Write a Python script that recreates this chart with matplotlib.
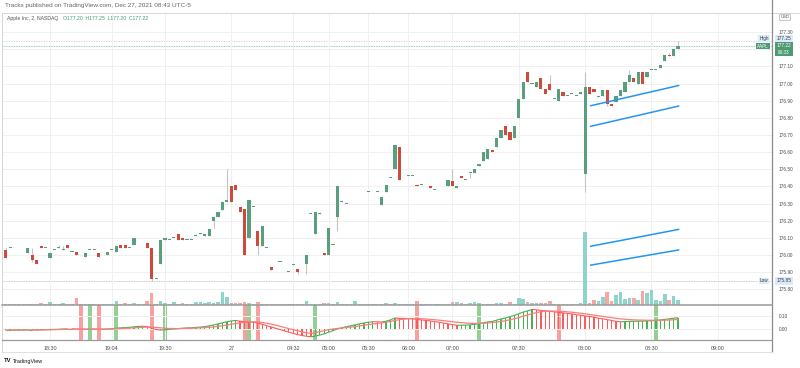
import sys
import numpy as np
import matplotlib
matplotlib.use("Agg")
import matplotlib.pyplot as plt
from matplotlib.lines import Line2D
from matplotlib.collections import LineCollection

plt.rcParams['font.family'] = ['Liberation Sans', 'DejaVu Sans']

# AAPL 2-minute bars, Dec 26-27 2021 (extended hours)
opens = [
    176.03, 176.04, 176.01, 176.01, 176.05, 176.01, 176.00, 175.97, 176.05, 176.04,
    175.98, 176.03, 176.04, 176.03, 176.06, 176.02, 176.02, 176.01, 175.99, 176.03,
    176.03, 176.01, 176.01, 176.00, 176.03, 176.02, 176.06, 176.06, 176.04, 176.06,
    176.08, 176.05, 176.07, 176.04, 175.86, 175.95, 176.09, 176.09, 176.10, 176.12,
    176.10, 176.09, 176.09, 176.11, 176.12, 176.11, 176.11, 176.20, 176.22, 176.26,
    176.31, 176.40, 176.41, 176.28, 176.27, 176.10, 176.28, 176.14, 176.05, 176.04,
    175.93, 175.91, 175.96, 175.91, 175.90, 175.94, 175.92, 175.94, 175.95, 176.24,
    176.12, 176.24, 176.01, 176.00, 176.06, 176.22, 176.31, 176.30, 176.36, 176.36,
    176.36, 176.40, 176.37, 176.40, 176.37, 176.29, 176.37, 176.45, 176.50, 176.63,
    176.40, 176.46, 176.46, 176.41, 176.41, 176.43, 176.40, 176.38, 176.40, 176.40,
    176.40, 176.43, 176.39, 176.46, 176.44, 176.48, 176.48, 176.52, 176.55, 176.56,
    176.61, 176.63, 176.68, 176.75, 176.72, 176.68, 176.80, 176.91, 177.07, 177.00,
    176.98, 177.03, 176.97, 177.00, 176.91, 176.90, 176.95, 176.93, 176.94, 176.93,
    176.94, 176.47, 176.98, 176.97, 176.92, 176.93, 176.96, 176.88, 176.89, 176.93,
    176.95, 177.01, 177.03, 177.00, 177.07, 177.04, 177.08, 177.08, 177.09, 177.13,
    177.17, 177.16, 177.20,
]
highs = [
    176.04, 176.04, 176.01, 176.01, 176.05, 176.04, 176.04, 175.97, 176.05, 176.04,
    176.01, 176.03, 176.06, 176.05, 176.06, 176.02, 176.02, 176.01, 176.01, 176.03,
    176.03, 176.01, 176.01, 176.02, 176.03, 176.05, 176.06, 176.06, 176.04, 176.10,
    176.08, 176.05, 176.07, 176.04, 175.86, 176.09, 176.10, 176.09, 176.10, 176.12,
    176.10, 176.09, 176.09, 176.12, 176.13, 176.12, 176.15, 176.22, 176.25, 176.31,
    176.50, 176.40, 176.41, 176.28, 176.27, 176.32, 176.28, 176.14, 176.17, 176.04,
    175.93, 175.91, 175.96, 175.91, 175.90, 175.95, 175.92, 175.94, 176.00, 176.24,
    176.25, 176.25, 176.01, 176.16, 176.06, 176.40, 176.32, 176.30, 176.36, 176.36,
    176.36, 176.40, 176.37, 176.40, 176.37, 176.34, 176.41, 176.45, 176.64, 176.63,
    176.40, 176.46, 176.46, 176.41, 176.41, 176.43, 176.40, 176.38, 176.40, 176.40,
    176.44, 176.50, 176.40, 176.46, 176.44, 176.48, 176.50, 176.53, 176.60, 176.62,
    176.61, 176.68, 176.73, 176.75, 176.72, 176.75, 176.91, 177.01, 177.07, 177.00,
    177.01, 177.03, 176.97, 177.05, 176.91, 176.97, 176.95, 176.93, 176.94, 176.93,
    176.95, 177.07, 176.98, 176.97, 176.93, 176.96, 176.96, 176.88, 176.93, 176.96,
    177.01, 177.08, 177.03, 177.07, 177.07, 177.07, 177.08, 177.08, 177.11, 177.17,
    177.18, 177.20, 177.25,
]
lows = [
    175.98, 176.04, 176.01, 176.01, 176.05, 176.01, 175.96, 175.95, 176.04, 176.04,
    175.98, 176.03, 176.04, 176.03, 176.04, 176.02, 176.00, 176.01, 175.99, 176.03,
    176.03, 175.99, 176.01, 176.00, 176.03, 176.02, 176.04, 176.04, 176.04, 176.06,
    176.08, 176.05, 176.04, 175.85, 175.86, 175.95, 176.09, 176.09, 176.10, 176.09,
    176.09, 176.09, 176.09, 176.11, 176.12, 176.11, 176.11, 176.16, 176.22, 176.26,
    176.31, 176.31, 176.38, 176.25, 176.00, 176.10, 176.28, 176.00, 176.05, 176.04,
    175.91, 175.91, 175.96, 175.91, 175.90, 175.94, 175.89, 175.94, 175.89, 176.24,
    176.12, 176.24, 176.00, 176.00, 176.06, 176.14, 176.31, 176.30, 176.36, 176.36,
    176.36, 176.40, 176.37, 176.40, 176.37, 176.29, 176.37, 176.45, 176.50, 176.44,
    176.40, 176.46, 176.46, 176.40, 176.41, 176.43, 176.39, 176.38, 176.40, 176.40,
    176.40, 176.40, 176.39, 176.45, 176.44, 176.45, 176.48, 176.52, 176.55, 176.56,
    176.60, 176.63, 176.68, 176.70, 176.67, 176.68, 176.80, 176.91, 177.01, 177.00,
    176.98, 176.97, 176.94, 176.96, 176.91, 176.90, 176.93, 176.93, 176.94, 176.93,
    176.94, 176.37, 176.94, 176.95, 176.92, 176.93, 176.87, 176.87, 176.89, 176.93,
    176.95, 177.01, 177.01, 177.00, 177.00, 177.04, 177.08, 177.08, 177.09, 177.13,
    177.16, 177.16, 177.20,
]
closes = [
    175.98, 176.04, 176.01, 176.01, 176.05, 176.04, 175.97, 175.95, 176.04, 176.04,
    176.01, 176.03, 176.04, 176.03, 176.04, 176.02, 176.00, 176.01, 176.01, 176.03,
    176.03, 175.99, 176.01, 176.02, 176.03, 176.05, 176.04, 176.04, 176.04, 176.10,
    176.08, 176.05, 176.04, 175.86, 175.86, 176.09, 176.10, 176.09, 176.10, 176.09,
    176.09, 176.09, 176.09, 176.11, 176.13, 176.12, 176.15, 176.22, 176.25, 176.31,
    176.32, 176.31, 176.38, 176.25, 176.00, 176.32, 176.28, 176.05, 176.17, 176.04,
    175.91, 175.91, 175.96, 175.91, 175.90, 175.95, 175.90, 175.94, 176.00, 176.24,
    176.25, 176.24, 176.00, 176.16, 176.06, 176.40, 176.31, 176.30, 176.36, 176.36,
    176.36, 176.40, 176.37, 176.40, 176.37, 176.34, 176.41, 176.45, 176.64, 176.44,
    176.40, 176.46, 176.46, 176.40, 176.41, 176.43, 176.39, 176.38, 176.40, 176.40,
    176.44, 176.40, 176.40, 176.45, 176.44, 176.48, 176.50, 176.53, 176.60, 176.62,
    176.60, 176.68, 176.73, 176.70, 176.67, 176.75, 176.91, 177.01, 177.01, 177.00,
    177.01, 176.97, 176.94, 176.96, 176.91, 176.97, 176.93, 176.93, 176.94, 176.93,
    176.95, 176.98, 176.94, 176.95, 176.93, 176.96, 176.88, 176.87, 176.93, 176.96,
    177.01, 177.05, 177.01, 177.07, 177.00, 177.07, 177.08, 177.08, 177.11, 177.17,
    177.16, 177.20, 177.22,
]
# volume, thousand shares
volumes = [
    4, 3, 3, 3, 3, 4, 4, 4, 5, 3,
    8, 3, 3, 7, 4, 3, 20, 3, 4, 3,
    3, 4, 3, 4, 3, 12, 3, 5, 3, 5,
    3, 3, 12, 37, 4, 12, 5, 3, 9, 4,
    5, 3, 3, 8, 8, 5, 10, 6, 10, 40,
    23, 6, 6, 5, 10, 6, 3, 10, 4, 3,
    3, 3, 3, 3, 3, 3, 4, 3, 13, 3,
    3, 3, 7, 6, 3, 9, 3, 3, 3, 12,
    3, 3, 3, 3, 3, 3, 5, 3, 5, 3,
    3, 3, 3, 12, 3, 3, 4, 3, 3, 3,
    3, 10, 8, 5, 3, 5, 10, 5, 4, 4,
    3, 5, 5, 3, 10, 4, 21, 18, 10, 5,
    5, 7, 7, 12, 3, 3, 3, 3, 3, 3,
    5, 220, 7, 15, 12, 23, 40, 12, 30, 40,
    17, 22, 20, 15, 42, 35, 44, 15, 13, 33,
    15, 27, 15,
]
# lower pane oscillator (histogram) and its signal line
osc = [
    -0.010, -0.010, -0.009, -0.008, -0.007, -0.006, -0.006, -0.008, -0.006, -0.005,
    -0.004, -0.003, -0.002, 0.000, 0.001, 0.001, 0.000, -0.001, -0.002, -0.001,
    0.000, -0.001, -0.002, 0.000, 0.002, 0.006, 0.009, 0.011, 0.013, 0.017,
    0.020, 0.021, 0.019, 0.008, -0.004, -0.008, -0.006, -0.003, 0.000, 0.003,
    0.006, 0.008, 0.010, 0.012, 0.015, 0.019, 0.024, 0.031, 0.039, 0.048,
    0.056, 0.062, 0.066, 0.060, 0.056, 0.055, 0.052, 0.046, 0.036, 0.026,
    0.016, 0.006, -0.004, -0.014, -0.024, -0.034, -0.043, -0.050, -0.056, -0.060,
    -0.055, -0.047, -0.037, -0.025, -0.012, 0.000, 0.010, 0.018, 0.025, 0.032,
    0.040, 0.046, 0.052, 0.056, 0.055, 0.054, 0.060, 0.070, 0.085, 0.082,
    0.081, 0.080, 0.078, 0.075, 0.070, 0.066, 0.062, 0.057, 0.052, 0.046,
    0.040, 0.034, 0.028, 0.029, 0.030, 0.032, 0.036, 0.042, 0.048, 0.055,
    0.058, 0.068, 0.078, 0.085, 0.095, 0.105, 0.118, 0.130, 0.140, 0.150,
    0.148, 0.142, 0.140, 0.136, 0.132, 0.128, 0.124, 0.120, 0.116, 0.110,
    0.106, 0.100, 0.097, 0.092, 0.083, 0.078, 0.072, 0.066, 0.058, 0.056,
    0.057, 0.058, 0.059, 0.060, 0.061, 0.062, 0.064, 0.066, 0.070, 0.074,
    0.078, 0.083, 0.087,
]
signal = [
    -0.008, -0.008, -0.008, -0.008, -0.008, -0.007, -0.007, -0.007, -0.007, -0.006,
    -0.006, -0.005, -0.004, -0.003, -0.002, -0.001, -0.001, -0.001, -0.001, -0.001,
    -0.001, -0.001, -0.001, -0.001, 0.000, 0.001, 0.003, 0.005, 0.007, 0.009,
    0.011, 0.013, 0.015, 0.014, 0.012, 0.009, 0.006, 0.004, 0.003, 0.003,
    0.004, 0.005, 0.006, 0.007, 0.009, 0.011, 0.013, 0.016, 0.020, 0.025,
    0.030, 0.036, 0.042, 0.047, 0.051, 0.054, 0.055, 0.054, 0.050, 0.045,
    0.038, 0.030, 0.021, 0.012, 0.003, -0.006, -0.014, -0.022, -0.030, -0.033,
    -0.028, -0.020, -0.012, -0.005, 0.000, 0.004, 0.008, 0.011, 0.015, 0.019,
    0.024, 0.029, 0.034, 0.039, 0.043, 0.047, 0.052, 0.058, 0.066, 0.072,
    0.076, 0.079, 0.080, 0.080, 0.079, 0.077, 0.074, 0.071, 0.068, 0.064,
    0.060, 0.056, 0.052, 0.049, 0.046, 0.044, 0.043, 0.043, 0.044, 0.046,
    0.049, 0.053, 0.058, 0.064, 0.071, 0.079, 0.088, 0.098, 0.108, 0.118,
    0.126, 0.132, 0.136, 0.138, 0.138, 0.137, 0.135, 0.132, 0.129, 0.125,
    0.121, 0.117, 0.112, 0.107, 0.102, 0.097, 0.092, 0.087, 0.082, 0.078,
    0.075, 0.072, 0.070, 0.069, 0.068, 0.067, 0.067, 0.067, 0.067, 0.068,
    0.069, 0.071, 0.073,
]
# bars flagged by the indicator background
red_flags = [17, 21, 33, 54, 57, 93, 125]
green_flags = [19, 25, 36, 55, 70, 107, 147]

time_ticks = [10, 24, 36, 51, 65, 73, 82, 91, 101, 116, 131, 146, 161]
time_labels = ["18:30", "19:04", "19:30", "27", "04:32", "05:00", "05:30",
               "06:00", "07:00", "07:30", "08:00", "08:30", "09:00"]
price_ticks = [175.80, 175.90, 176.00, 176.10, 176.20, 176.30, 176.40, 176.50,
               176.60, 176.70, 176.80, 176.90, 177.00, 177.10, 177.20, 177.30]

# user drawn trend lines (bar index -> price)
trend_bars = [132.1, 152.3]
trend_start = [176.87, 176.75, 176.05, 175.94]
trend_end = [176.99, 176.87, 176.15, 176.03]

day_high = 177.25
day_low = 175.85
last_price = 177.22

W, H = 800, 368
XLIM = (-0.84, 173.25)
GREEN = '#5a9e7d'
RED = '#cc4b3c'
TXT = '#4a4a4a'


def box(left, top, right, bottom):
    return [left / W, 1 - bottom / H, (right - left) / W, (bottom - top) / H]


def ftext(fig, px, py, s, **kw):
    kw.setdefault('fontsize', 3.6)
    kw.setdefault('color', TXT)
    kw.setdefault('va', 'center')
    return fig.text(px / W, 1 - py / H, s, **kw)


def fline(fig, xs, ys, color, lw):
    fig.add_artist(Line2D([v / W for v in xs], [1 - v / H for v in ys],
                          color=color, lw=lw, transform=fig.transFigure))


def main():
    fig = plt.figure(figsize=(8, 3.68), dpi=100)
    fig.patch.set_facecolor('white')

    x = np.arange(len(closes))
    o = np.array(opens)
    c = np.array(closes)
    up = c >= o

    # price pane
    ax = fig.add_axes(box(2, 12.7, 772, 305))
    ax.set_xlim(XLIM)
    ax.set_ylim(175.708, 177.414)
    for s in ax.spines.values():
        s.set_visible(False)
    ax.set_xticks(time_ticks)
    ax.set_yticks(price_ticks)
    # 177.20 sits under the last-price label
    ax.set_yticklabels(["" if abs(p - 177.20) < 1e-6 else f"{p:.2f}" for p in price_ticks])
    ax.yaxis.tick_right()
    ax.tick_params(axis='y', length=0, pad=5, labelsize=3.4, labelcolor=TXT)
    ax.tick_params(axis='x', length=0, labelbottom=False)
    ax.grid(True, color='#f0f0f0', lw=0.7, zorder=0)

    ax.axhline(day_high, color='#c9ccd4', lw=0.6, ls=(0, (1, 1)), zorder=1)
    ax.axhline(day_low, color='#b8b8b8', lw=0.6, ls=(0, (1, 1)), zorder=1)
    ax.axhline(last_price, color='#7fb89a', lw=0.6, ls=(0, (1, 1)), zorder=1)

    ax.vlines(x, lows, highs, color='#c4c4c4', lw=0.8, zorder=2)
    body = np.maximum(np.abs(c - o), 0.004)
    ax.bar(x, body, bottom=np.minimum(o, c), width=0.72,
           color=np.where(up, GREEN, RED), lw=0, zorder=3)

    for p0, p1 in zip(trend_start, trend_end):
        ax.plot(trend_bars, [p0, p1], color='#2196f3', lw=1.1,
                solid_capstyle='butt', zorder=4)

    # volume overlay
    vax = fig.add_axes(box(2, 12.7, 772, 305), facecolor='none')
    vax.set_xlim(XLIM)
    vax.set_ylim(0, 877)
    vax.axis('off')
    vax.bar(x, volumes, width=0.8, color=np.where(up, '#8fd4ca', '#f7a6a3'),
            lw=0, zorder=1)

    # indicator pane
    ind = fig.add_axes(box(2, 305, 772, 340))
    ind.set_xlim(XLIM)
    ind.set_ylim(-0.0846, 0.1846)
    for s in ind.spines.values():
        s.set_visible(False)
    ind.set_xticks(time_ticks)
    ind.set_xticklabels(time_labels)
    ind.set_yticks([0.0, 0.1])
    ind.set_yticklabels(["0.00", "0.10"])
    ind.yaxis.tick_right()
    ind.tick_params(axis='y', length=0, pad=5, labelsize=3.4, labelcolor=TXT)
    ind.tick_params(axis='x', length=0, pad=4, labelsize=3.9, labelcolor=TXT)
    ind.grid(True, color='#f0f0f0', lw=0.7, zorder=0)

    for i in red_flags:
        ind.axvspan(i - 0.45, i + 0.45, color='#f8a0a0', lw=0, zorder=1)
    for i in green_flags:
        ind.axvspan(i - 0.45, i + 0.45, color='#94cf94', lw=0, zorder=1)

    osc_a = np.array(osc)
    rising = np.diff(osc_a, prepend=osc_a[0]) >= 0
    cols = np.where(rising, '#4caf50', '#ff5a5a')
    ind.bar(x, osc_a, width=0.3, color=cols, lw=0, zorder=2)
    segs = [[(i - 1, osc_a[i - 1]), (i, osc_a[i])] for i in range(1, len(osc_a))]
    ind.add_collection(LineCollection(segs, colors=cols[1:], lw=0.8, zorder=3))
    ind.plot(x, signal, color='#f77f7f', lw=0.9, zorder=3)

    # frame lines
    fline(fig, [2, 800], [12.7, 12.7], '#d6d6d6', 0.7)
    fline(fig, [2, 2], [12.7, 352], '#d6d6d6', 0.7)
    fline(fig, [772, 772], [0, 352], '#8c8c8c', 0.9)
    fline(fig, [2, 772], [305, 305], '#9a9a9a', 1.1)
    fline(fig, [2, 772], [340, 340], '#9a9a9a', 0.9)
    fline(fig, [2, 772], [352, 352], '#e0e0e0', 0.7)

    # texts
    ftext(fig, 5, 6, "Tracks published on TradingView.com, Dec 27, 2021 08:43 UTC-5",
          fontsize=4.6, color='#666666')
    ftext(fig, 7, 18.5, "Apple Inc, 2, NASDAQ", fontsize=3.7, color='#555555')
    ftext(fig, 63, 18.5, "O177.20  H177.25  L177.20  C177.22", fontsize=3.7,
          color='#3f9d6c')

    ftext(fig, 785, 17.5, "USD", fontsize=3.0, ha='center',
          bbox=dict(boxstyle='round,pad=0.25', fc='white', ec='#b0b0b0', lw=0.5))
    ftext(fig, 764, 38.5, "High", fontsize=3.3, ha='center', color='#3a3a3a',
          bbox=dict(boxstyle='square,pad=0.2', fc='#dbeafb', ec='none'))
    ftext(fig, 784, 38.5, "177.25", fontsize=3.4, ha='center', color='#3a3a3a',
          bbox=dict(boxstyle='square,pad=0.25', fc='#dbeafb', ec='none'))
    ftext(fig, 763, 46, "AAPL", fontsize=3.3, ha='center', color='white',
          bbox=dict(boxstyle='square,pad=0.2', fc='#4e9a73', ec='none'))
    ftext(fig, 784, 49, "177.22\n00:33", fontsize=3.4, ha='center', color='white',
          linespacing=1.3,
          bbox=dict(boxstyle='square,pad=0.35', fc='#4e9a73', ec='none'))
    ftext(fig, 764, 281, "Low", fontsize=3.3, ha='center', color='#3a3a3a',
          bbox=dict(boxstyle='square,pad=0.2', fc='#dbeafb', ec='none'))
    ftext(fig, 784, 281, "175.85", fontsize=3.4, ha='center', color='#3a3a3a',
          bbox=dict(boxstyle='square,pad=0.25', fc='#dbeafb', ec='none'))

    ftext(fig, 4, 361, "TV", fontsize=4.2, fontweight='bold', color='#131722')
    ftext(fig, 13, 361, "TradingView", fontsize=4.0, color='#131722')

    fig.savefig("out.png", dpi=100, facecolor='white')
    return 0


if __name__ == "__main__":
    sys.exit(main())
